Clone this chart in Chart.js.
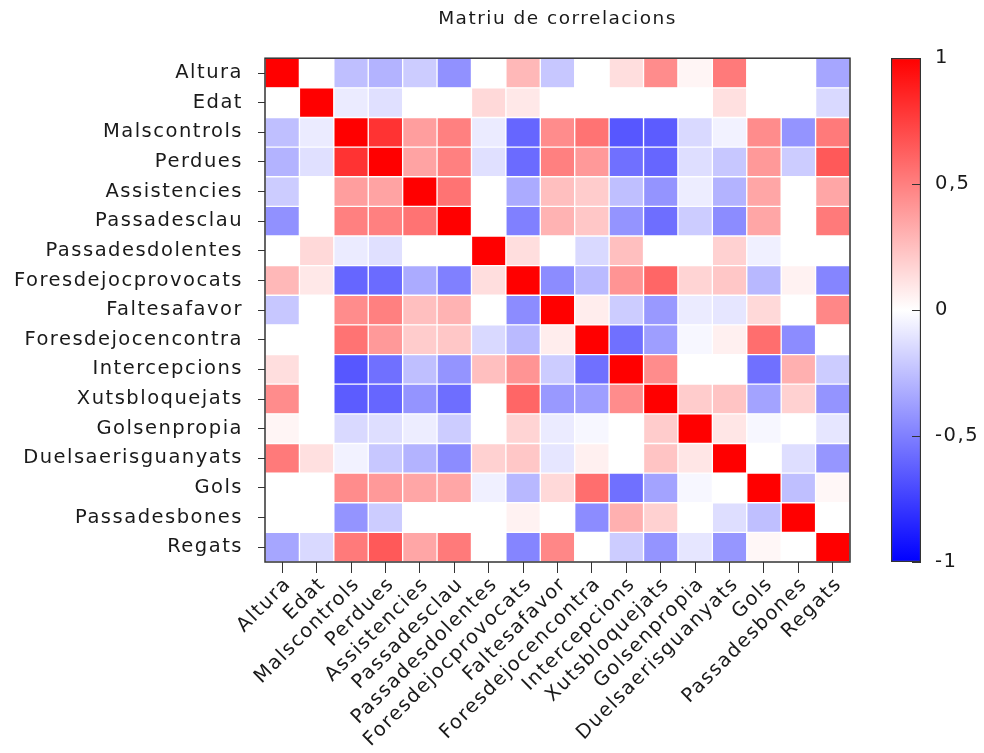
<!DOCTYPE html>
<html>
<head>
<meta charset="utf-8">
<script src="https://cdn.jsdelivr.net/npm/chart.js@4.4.1/dist/chart.umd.min.js"></script>
<style>
  body { margin: 0; background: #fff; }
  #wrap { position: relative; width: 984px; height: 753px; }
  #heat { position: absolute; left: 0; top: 0; }
  #bar { position: absolute; left: 880px; top: 0; }
</style>
</head>
<body>
<div id="wrap">
  <canvas id="heat" width="984" height="753"></canvas>
  <canvas id="bar" width="104" height="753"></canvas>
</div>
<script>
const labels = ['Altura', 'Edat', 'Malscontrols', 'Perdues', 'Assistencies', 'Passadesclau',
    'Passadesdolentes', 'Foresdejocprovocats', 'Faltesafavor', 'Foresdejocencontra',
    'Intercepcions', 'Xutsbloquejats', 'Golsenpropia', 'Duelsaerisguanyats', 'Gols',
    'Passadesbones', 'Regats'];

// correlation matrix, rows in the same order as labels (top to bottom)
const corr = [
    [1, 0, -0.25, -0.3, -0.2, -0.43, 0, 0.28, -0.22, 0, 0.13, 0.45, 0.04, 0.52, 0, 0, -0.35],
    [0, 1, -0.08, -0.12, 0, 0, 0.15, 0.09, 0, 0, 0, 0, 0, 0.12, 0, 0, -0.15],
    [-0.25, -0.08, 1, 0.8, 0.38, 0.5, -0.08, -0.6, 0.45, 0.55, -0.66, -0.64, -0.15, -0.05, 0.45, -0.42, 0.52],
    [-0.3, -0.12, 0.8, 1, 0.36, 0.5, -0.12, -0.58, 0.5, 0.4, -0.56, -0.6, -0.13, -0.22, 0.4, -0.2, 0.65],
    [-0.2, 0, 0.38, 0.36, 1, 0.55, 0, -0.33, 0.25, 0.2, -0.25, -0.42, -0.07, -0.3, 0.35, 0, 0.35],
    [-0.43, 0, 0.5, 0.5, 0.55, 1, 0, -0.5, 0.3, 0.22, -0.42, -0.57, -0.2, -0.45, 0.35, 0, 0.52],
    [0, 0.15, -0.08, -0.12, 0, 0, 1, 0.13, 0, -0.15, 0.25, 0, 0, 0.18, -0.06, 0, 0],
    [0.28, 0.09, -0.6, -0.58, -0.33, -0.5, 0.13, 1, -0.45, -0.27, 0.42, 0.6, 0.17, 0.22, -0.28, 0.05, -0.48],
    [-0.22, 0, 0.45, 0.5, 0.25, 0.3, 0, -0.45, 1, 0.07, -0.2, -0.4, -0.08, -0.1, 0.15, 0, 0.47],
    [0, 0, 0.55, 0.4, 0.2, 0.22, -0.15, -0.27, 0.07, 1, -0.56, -0.38, -0.03, 0.06, 0.57, -0.45, 0],
    [0.13, 0, -0.66, -0.56, -0.25, -0.42, 0.25, 0.42, -0.2, -0.56, 1, 0.45, 0, 0, -0.56, 0.31, -0.2],
    [0.45, 0, -0.64, -0.6, -0.42, -0.57, 0, 0.6, -0.4, -0.38, 0.45, 1, 0.2, 0.23, -0.36, 0.18, -0.42],
    [0.04, 0, -0.15, -0.13, -0.07, -0.2, 0, 0.17, -0.08, -0.03, 0, 0.2, 1, 0.1, -0.03, 0, -0.1],
    [0.52, 0.12, -0.05, -0.22, -0.3, -0.45, 0.18, 0.22, -0.1, 0.06, 0, 0.23, 0.1, 1, 0, -0.13, -0.41],
    [0, 0, 0.45, 0.4, 0.35, 0.35, -0.06, -0.28, 0.15, 0.57, -0.56, -0.36, -0.03, 0, 1, -0.25, 0.03],
    [0, 0, -0.42, -0.2, 0, 0, 0, 0.05, 0, -0.45, 0.31, 0.18, 0, -0.13, -0.25, 1, 0],
    [-0.35, -0.15, 0.52, 0.65, 0.35, 0.52, 0, -0.48, 0.47, 0, -0.2, -0.42, -0.1, -0.41, 0.03, 0, 1]
];

const barTicks = [-1, -0.5, 0, 0.5, 1];

const font = { family: 'DejaVu Sans', size: 19.5 };
const textColor = '#1a1a1a';

// blue - white - red
function cellColor(v) {
    const k = Math.round(255 * (1 - Math.abs(v)));
    return v >= 0 ? `rgb(255,${k},${k})` : `rgb(${k},${k},255)`;
}

// wider letters like the reference font
const spacing = {
    id: 'spacing',
    beforeUpdate(chart) { chart.ctx.letterSpacing = '1.5px'; },
    beforeDraw(chart) { chart.ctx.letterSpacing = '1.5px'; }
};

const frame = {
    id: 'frame',
    afterDatasetsDraw(chart) {
        const { ctx, chartArea: a } = chart;
        ctx.save();
        ctx.strokeStyle = '#333';
        ctx.lineWidth = 1.5;
        ctx.strokeRect(a.left, a.top, a.right - a.left, a.bottom - a.top);
        ctx.restore();
    }
};

// one stacked dataset per row, bottom row first
const datasets = corr.slice().reverse().map(row => ({
    data: labels.map(() => 1),
    backgroundColor: row.map(cellColor),
    borderColor: '#fff',
    borderWidth: 1,
    borderSkipped: false,
    barPercentage: 1,
    categoryPercentage: 1
}));

new Chart(document.getElementById('heat').getContext('2d'), {
    type: 'bar',
    data: { labels: labels, datasets: datasets },
    options: {
        responsive: false,
        animation: false,
        layout: { padding: { left: 0, right: 134, top: 0, bottom: 0 } },
        plugins: {
            legend: { display: false },
            tooltip: { enabled: false },
            title: {
                display: true,
                text: 'Matriu de correlacions',
                fullSize: false,
                color: textColor,
                font: { family: 'DejaVu Sans', size: 18.5, weight: 'normal' },
                padding: { top: 8, bottom: 28 }
            }
        },
        scales: {
            x: {
                stacked: true,
                grid: { display: true, offset: false, drawOnChartArea: false, color: '#333', tickLength: 11 },
                border: { display: false },
                ticks: {
                    autoSkip: false, maxRotation: 45, minRotation: 45,
                    color: textColor, font: font, padding: 0, labelOffset: 6
                },
                afterFit: s => { s.height = 191; }
            },
            y: {
                stacked: true,
                min: 0,
                max: labels.length,
                grid: { display: true, drawOnChartArea: false, color: '#333', tickLength: 7 },
                border: { display: false },
                afterBuildTicks: axis => {
                    axis.ticks = labels.map((_, i) => ({ value: i + 0.5 }));
                },
                ticks: {
                    autoSkip: false,
                    color: textColor,
                    font: font,
                    padding: 15,
                    callback: v => labels[labels.length - 1 - Math.floor(v)]
                },
                afterFit: s => { s.width = 265; }
            }
        }
    },
    plugins: [spacing, frame]
});

// colour bar
new Chart(document.getElementById('bar').getContext('2d'), {
    type: 'bar',
    data: {
        labels: [''],
        datasets: [{
            data: [[barTicks[0], barTicks[barTicks.length - 1]]],
            backgroundColor: c => {
                const a = c.chart.chartArea;
                if (!a) return '#fff';
                const g = c.chart.ctx.createLinearGradient(0, a.bottom, 0, a.top);
                g.addColorStop(0, cellColor(-1));
                g.addColorStop(0.5, cellColor(0));
                g.addColorStop(1, cellColor(1));
                return g;
            },
            borderColor: '#333',
            borderWidth: 1.5,
            borderSkipped: false,
            barPercentage: 1,
            categoryPercentage: 1
        }]
    },
    options: {
        responsive: false,
        animation: false,
        layout: { padding: { left: 11, right: 0, top: 58, bottom: 191 } },
        plugins: { legend: { display: false }, tooltip: { enabled: false } },
        scales: {
            x: { display: false },
            y: {
                position: 'right',
                min: -1,
                max: 1,
                afterBuildTicks: axis => {
                    axis.ticks = barTicks.map(v => ({ value: v }));
                },
                grid: { display: true, drawOnChartArea: false, color: '#333', tickLength: -9, z: 1 },
                border: { display: false },
                ticks: {
                    color: textColor,
                    font: font,
                    padding: 23,
                    callback: v => String(v).replace('.', ',')
                },
                afterFit: s => { s.width = 63; }
            }
        }
    },
    plugins: [spacing]
});
</script>
</body>
</html>
